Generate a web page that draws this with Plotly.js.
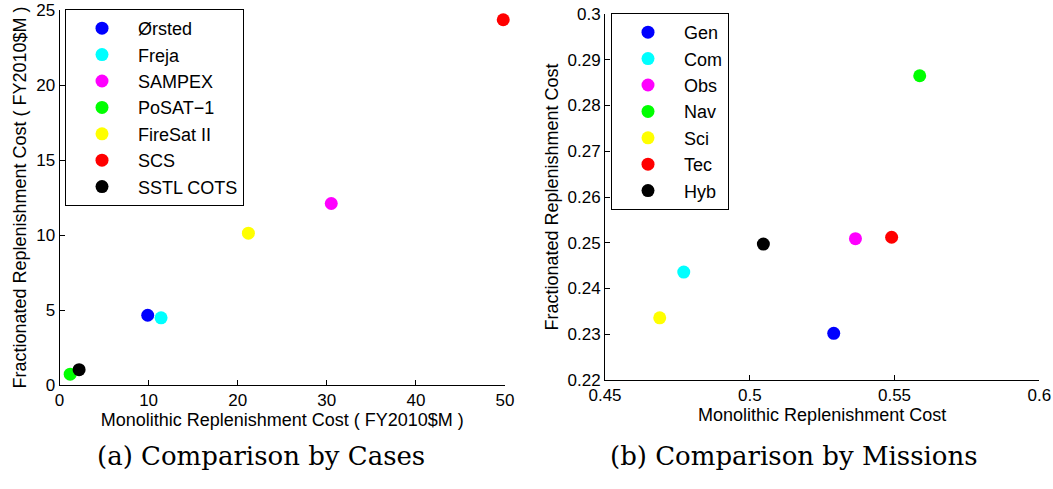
<!DOCTYPE html>
<html><head><meta charset="utf-8">
<script src="https://cdn.plot.ly/plotly-3.0.1.min.js"></script>
<style>html,body{margin:0;padding:0;background:#fff}#chart{width:1053px;height:489px}</style>
</head><body><div id="chart"></div>
<script>
// Left panel: comparison by cases
const caseNames = ['Ørsted','Freja','SAMPEX','PoSAT\u22121','FireSat II','SCS','SSTL COTS'];
const caseMono  = [9.9, 11.4, 30.5, 1.2, 21.2, 49.8, 2.2];
const caseFrac  = [4.65, 4.48, 12.1, 0.72, 10.12, 24.35, 1.02];
// Right panel: comparison by missions
const missionNames = ['Gen','Com','Obs','Nav','Sci','Tec','Hyb'];
const missionMono  = [0.529, 0.4772, 0.5365, 0.5587, 0.4689, 0.5490, 0.5047];
const missionFrac  = [0.2302, 0.2436, 0.2509, 0.2865, 0.2336, 0.2512, 0.2497];
const colors = ['#0000ff','#00ffff','#ff00ff','#00ff00','#ffff00','#ff0000','#000000'];

const W = 1053, H = 489;
const traces = [];
caseNames.forEach((n,i)=>traces.push({type:'scatter',mode:'markers',name:n,x:[caseMono[i]],y:[caseFrac[i]],cliponaxis:false,
  marker:{color:colors[i],size:13},xaxis:'x',yaxis:'y',legend:'legend'}));
missionNames.forEach((n,i)=>traces.push({type:'scatter',mode:'markers',name:n,x:[missionMono[i]],y:[missionFrac[i]],cliponaxis:false,
  marker:{color:colors[i],size:13},xaxis:'x2',yaxis:'y2',legend:'legend2'}));

const tickFont = {family:'Liberation Sans, Arial, sans-serif',size:17,color:'#000'};
const titleFont = {family:'Liberation Sans, Arial, sans-serif',size:18,color:'#000'};
const axBase = {showline:true,linecolor:'#000',linewidth:1,ticks:'inside',ticklen:5,tickcolor:'#000',
  showgrid:false,zeroline:false,mirror:false,tickfont:tickFont};
const legBase = {bordercolor:'#000',borderwidth:1,bgcolor:'#fff',font:{family:'Liberation Sans, Arial, sans-serif',size:18,color:'#000'},
  itemwidth:62,xanchor:'left',yanchor:'top',tracegroupgap:0};

const layout = {
  width:W,height:H,margin:{l:0,r:0,t:0,b:0},showlegend:true,
  paper_bgcolor:'#fff',plot_bgcolor:'#fff',
  xaxis:Object.assign({},axBase,{domain:[59.5/W,505/W],range:[0,50],tickvals:[0,10,20,30,40,50],anchor:'y',
    title:{text:'Monolithic Replenishment Cost ( FY2010$M )',font:titleFont,standoff:2}}),
  yaxis:Object.assign({},axBase,{domain:[(H-385)/H,(H-10)/H],range:[0,25],tickvals:[0,5,10,15,20,25],anchor:'x',
    title:{text:'Fractionated Replenishment Cost ( FY2010$M )',font:titleFont,standoff:4}}),
  xaxis2:Object.assign({},axBase,{domain:[605/W,1039.3/W],range:[0.45,0.6],tickvals:[0.45,0.5,0.55,0.6],ticktext:['0.45','0.5','0.55','0.6'],anchor:'y2',
    title:{text:'Monolithic Replenishment Cost',font:titleFont,standoff:2}}),
  yaxis2:Object.assign({},axBase,{domain:[(H-380)/H,(H-14)/H],range:[0.22,0.3],tickvals:[0.22,0.23,0.24,0.25,0.26,0.27,0.28,0.29,0.3],
    ticktext:['0.22','0.23','0.24','0.25','0.26','0.27','0.28','0.29','0.3'],anchor:'x2',
    title:{text:'Fractionated Replenishment Cost',font:titleFont,standoff:4}}),
  legend:Object.assign({},legBase,{x:65/W,y:(H-9)/H}),
  legend2:Object.assign({},legBase,{x:611/W,y:(H-13)/H}),
  annotations:[
    {text:'(a) Comparison by Cases',xref:'paper',yref:'paper',x:261/W,y:(H-456)/H,showarrow:false,
     font:{family:'DejaVu Serif, Liberation Serif, serif',size:26,color:'#000'},xanchor:'center',yanchor:'middle'},
    {text:'(b) Comparison by Missions',xref:'paper',yref:'paper',x:794/W,y:(H-456)/H,showarrow:false,
     font:{family:'DejaVu Serif, Liberation Serif, serif',size:26,color:'#000'},xanchor:'center',yanchor:'middle'}
  ]
};
Plotly.newPlot('chart',traces,layout,{displayModeBar:false,staticPlot:true});
</script></body></html>
